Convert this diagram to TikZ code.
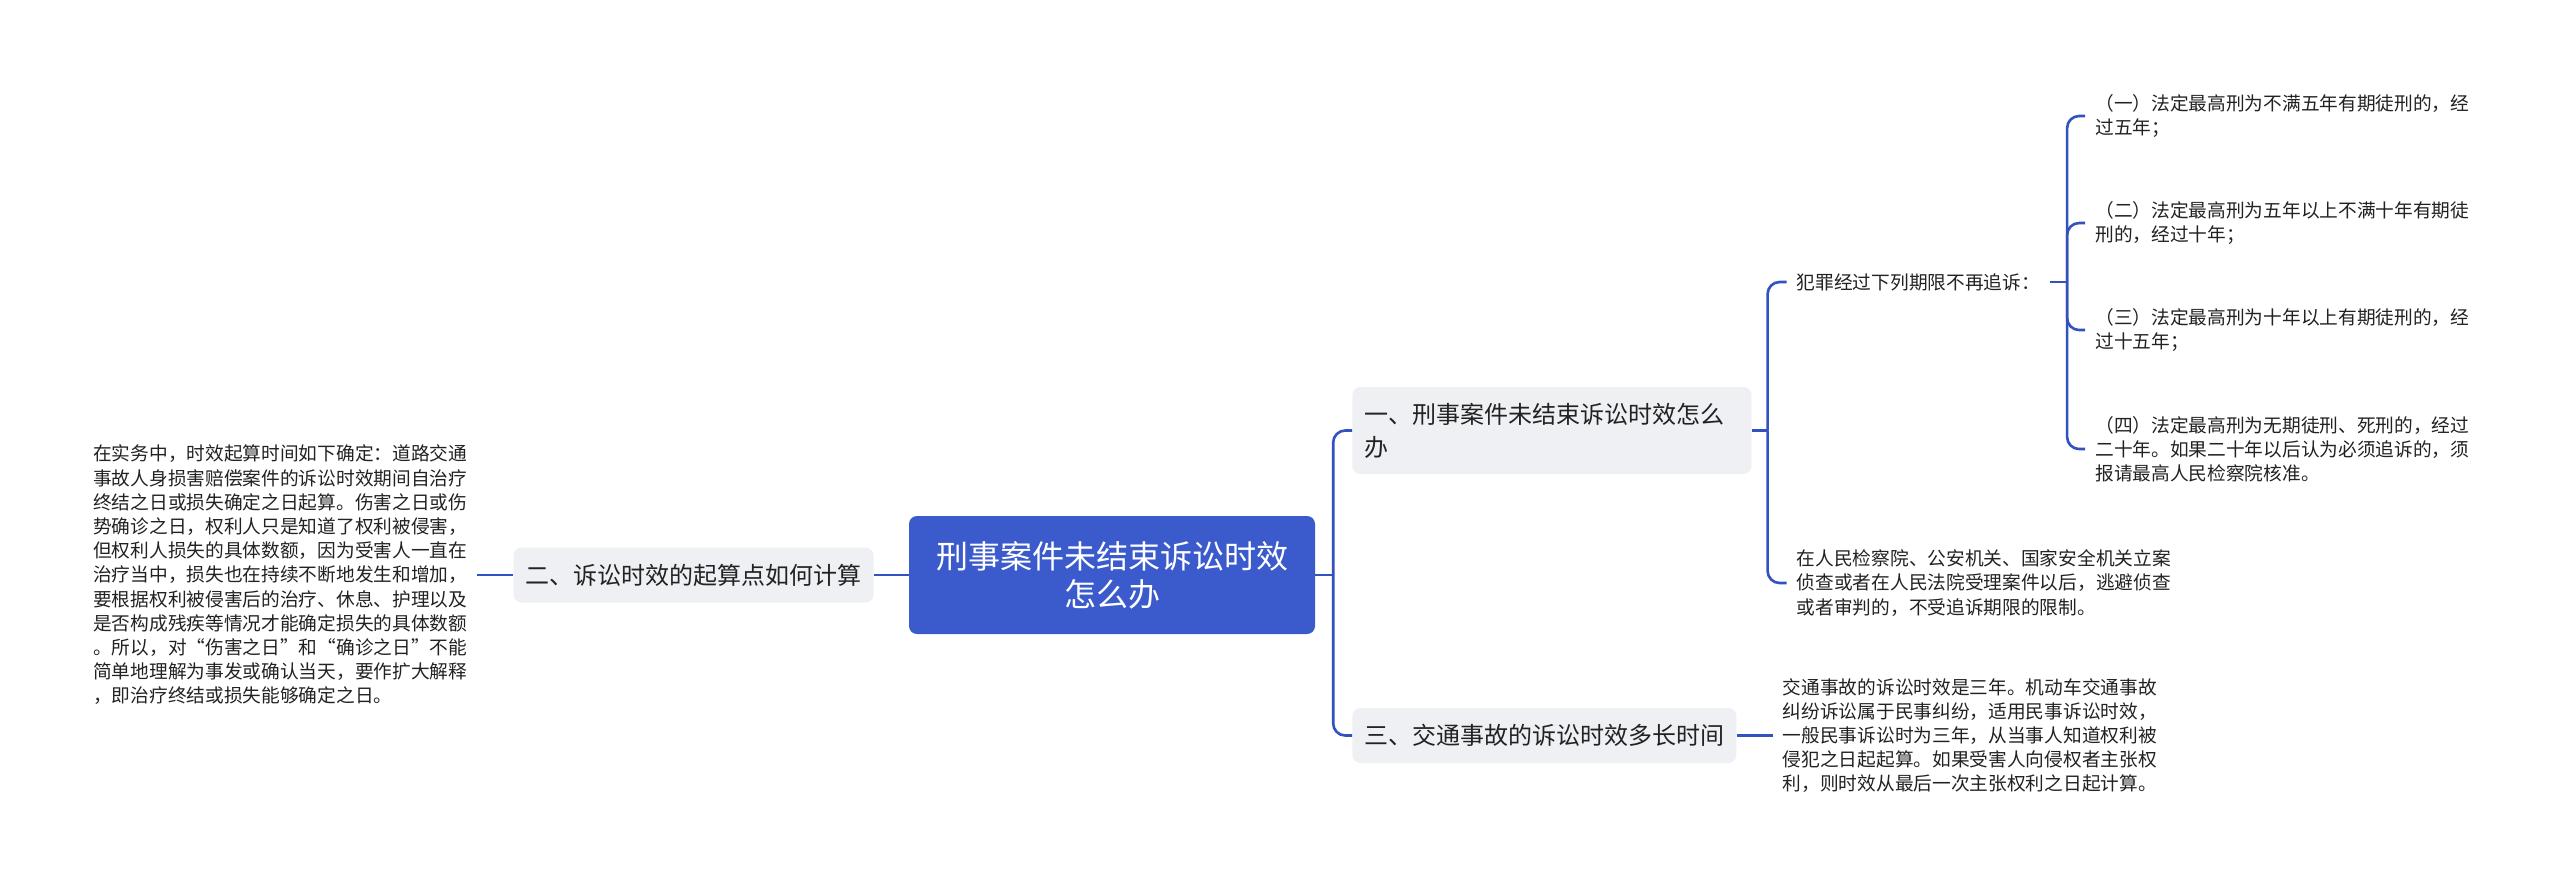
\documentclass[tikz,border=0pt]{standalone}
\usepackage{fontspec}
\setmainfont{Noto Sans CJK SC}
\usetikzlibrary{positioning}
\definecolor{linkblue}{RGB}{50,82,192}
\definecolor{topicblue}{RGB}{59,91,204}
\definecolor{boxgray}{RGB}{238,240,244}
\definecolor{inkgray}{RGB}{34,34,34}

\begin{document}
\begin{tikzpicture}[
    x=1pt, y=-1pt,
    topic/.style={rectangle, rounded corners=8pt, fill=topicblue, text=white, align=center, minimum width=406pt, minimum height=118pt, font=\fontsize{32}{38}\selectfont},
    branch/.style={rectangle, rounded corners=8pt, fill=boxgray, text=inkgray, align=left, inner xsep=12pt, minimum height=55pt, font=\fontsize{24}{33}\selectfont},
    leaf/.style={text=inkgray, align=left, inner xsep=10pt, inner ysep=0pt, font=\fontsize{18.7}{24.2}\selectfont},
    link/.style={draw=linkblue, line width=2.6pt, rounded corners=12pt}
]
    \path[use as bounding box, fill=white] (0,0) rectangle (2560,887);

    % Centre
    \node[topic] (root) at (1112,575) {刑事案件未结束诉讼时效\\怎么办};

    % Left side
    \node[branch, left=35pt of root] (calc) {二、诉讼时效的起算点如何计算};
    \node[leaf, left=36pt of calc] (calcnote) {在实务中，时效起算时间如下确定：道路交通\\事故人身损害赔偿案件的诉讼时效期间自治疗\\终结之日或损失确定之日起算。伤害之日或伤\\势确诊之日，权利人只是知道了权利被侵害，\\但权利人损失的具体数额，因为受害人一直在\\治疗当中，损失也在持续不断地发生和增加，\\要根据权利被侵害后的治疗、休息、护理以及\\是否构成残疾等情况才能确定损失的具体数额\\。所以，对“伤害之日”和“确诊之日”不能\\简单地理解为事发或确认当天，要作扩大解释\\，即治疗终结或损失能够确定之日。};

    % Right side, first branch
    \node[branch, text width=375pt, minimum height=87pt, right=37pt of root, yshift=144.5pt] (crim) {一、刑事案件未结束诉讼时效怎么\\办};
    \node[leaf, right=35pt of crim, yshift=148.5pt] (limit) {犯罪经过下列期限不再追诉：};
    \node[leaf, right=35pt of crim, yshift=-152.5pt] (escape) {在人民检察院、公安机关、国家安全机关立案\\侦查或者在人民法院受理案件以后，逃避侦查\\或者审判的，不受追诉期限的限制。};
    \node[leaf, right=35pt of limit, yshift=166pt] (item1) {（一）法定最高刑为不满五年有期徒刑的，经\\过五年；};
    \node[leaf, right=35pt of limit, yshift=59pt] (item2) {（二）法定最高刑为五年以上不满十年有期徒\\刑的，经过十年；};
    \node[leaf, right=35pt of limit, yshift=-48pt] (item3) {（三）法定最高刑为十年以上有期徒刑的，经\\过十五年；};
    \node[leaf, right=35pt of limit, yshift=-167pt] (item4) {（四）法定最高刑为无期徒刑、死刑的，经过\\二十年。如果二十年以后认为必须追诉的，须\\报请最高人民检察院核准。};

    % Right side, third branch
    \node[branch, right=37pt of root, yshift=-160.5pt] (traffic) {三、交通事故的诉讼时效多长时间};
    \node[leaf, right=36pt of traffic] (trafficnote) {交通事故的诉讼时效是三年。机动车交通事故\\纠纷诉讼属于民事纠纷，适用民事诉讼时效，\\一般民事诉讼时为三年，从当事人知道权利被\\侵犯之日起起算。如果受害人向侵权者主张权\\利，则时效从最后一次主张权利之日起计算。};

    % Connections
    \coordinate[right=18pt of root.east] (rootfork);
    \coordinate[right=16pt of crim.east] (crimfork);
    \coordinate[right=17pt of limit.east] (limitfork);
    \draw[link] (root.west) -- (calc.east);
    \draw[link] (calc.west) -- (calcnote.east);
    \draw[link] (root.east) -- (rootfork);
    \draw[link] (rootfork) |- (crim.west);
    \draw[link] (rootfork) |- (traffic.west);
    \draw[link] (crim.east) -- (crimfork);
    \draw[link] (crimfork) |- (limit.west);
    \draw[link] (crimfork) |- (escape.west);
    \draw[link] (limit.east) -- (limitfork);
    \foreach \i in {1,...,4}
        \draw[link] (limitfork) |- (item\i.west);
    \draw[link] (traffic.east) -- (trafficnote.west);
\end{tikzpicture}
\end{document}
